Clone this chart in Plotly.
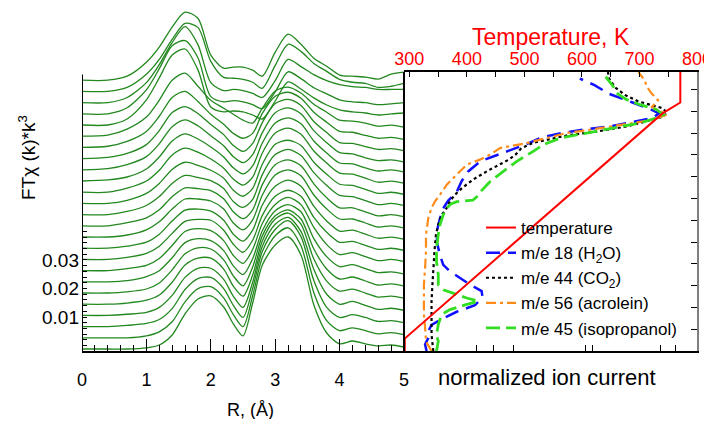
import plotly.graph_objects as go

# ---- left panel: stacked FT magnitudes (units of 1e-3), bottom spectrum first ----
r_grid = [0, 0.4, 0.7, 1.0, 1.2, 1.4, 1.6, 1.8, 2.0, 2.2, 2.35, 2.5, 2.65,
          2.8, 3.0, 3.2, 3.4, 3.6, 3.8, 4.0, 4.2, 4.4, 4.6, 4.8, 5.0]

ft_00 = [0, 0, 0, 0.4, 1.4, 4.9, 12.3, 17.5, 18.6, 14.7, 8.8, 4.6, 16.1, 29.4, 36.4, 39.2, 32.9, 15.4, 5.6, 1.8, 2.8, 1.8, 1.1, 1.4, 0.7]
ft_01 = [0, 0, 0, 0.7, 2.1, 5.6, 12.6, 17.2, 17.9, 14.0, 8.1, 3.9, 14.7, 28.0, 35.7, 38.5, 32.2, 15.8, 6.0, 2.5, 3.5, 2.5, 1.4, 1.8, 1.1]
ft_02 = [0, 0, 0.4, 1.1, 2.5, 6.3, 13.0, 16.8, 17.2, 13.3, 7.4, 3.2, 13.3, 26.3, 34.0, 37.1, 31.5, 16.1, 6.7, 3.2, 4.2, 3.2, 1.8, 2.1, 1.4]
ft_03 = [0, 0, 0.4, 1.1, 2.8, 7.0, 13.3, 16.5, 16.5, 12.6, 6.7, 2.8, 11.6, 24.2, 31.9, 34.3, 29.4, 16.1, 7.4, 3.9, 4.9, 3.5, 2.1, 2.5, 1.8]
ft_04 = [0, 0, 0.4, 1.4, 3.2, 7.7, 13.7, 16.1, 16.1, 12.3, 6.3, 2.8, 10.2, 22.1, 29.8, 31.9, 28.0, 15.8, 8.1, 4.6, 5.3, 3.9, 2.5, 2.8, 2.1]
ft_05 = [0, 0, 0.4, 1.4, 3.5, 8.1, 13.7, 15.8, 15.4, 11.6, 6.0, 2.5, 9.1, 20.0, 27.0, 29.1, 25.9, 15.4, 8.4, 4.9, 5.6, 4.2, 2.8, 3.2, 2.5]
ft_06 = [0, 0, 0.4, 1.8, 3.9, 8.4, 13.7, 15.1, 14.4, 10.9, 5.6, 2.5, 8.1, 17.9, 24.9, 27.0, 24.5, 15.1, 8.8, 5.3, 6.0, 4.6, 3.2, 3.5, 2.8]
ft_07 = [0, 0, 0.7, 1.8, 4.2, 8.8, 13.7, 14.7, 14.0, 10.5, 5.3, 2.5, 7.4, 16.5, 23.1, 25.6, 23.1, 15.1, 9.1, 5.6, 6.3, 4.9, 3.5, 3.9, 3.2]
ft_08 = [0, 0, 0.7, 2.1, 4.6, 9.1, 13.3, 14.0, 13.7, 10.2, 5.3, 2.5, 6.7, 15.4, 22.1, 24.2, 22.1, 14.7, 9.5, 6.0, 6.3, 4.9, 3.5, 3.9, 3.2]
ft_09 = [0, 0, 0.7, 2.1, 4.9, 9.5, 13.3, 13.7, 13.0, 9.8, 4.9, 2.5, 6.3, 15.1, 21.7, 23.8, 21.7, 14.7, 9.5, 6.0, 6.3, 4.9, 3.5, 3.9, 3.2]
ft_10 = [0, 0, 0.7, 2.5, 5.3, 9.8, 13.3, 13.3, 12.6, 9.8, 4.9, 2.5, 6.0, 14.7, 21.7, 23.5, 21.4, 14.7, 9.8, 6.3, 6.3, 4.9, 3.5, 3.9, 3.2]
ft_11 = [0, 0, 1.1, 2.8, 5.6, 10.2, 13.3, 13.0, 12.3, 9.5, 4.9, 2.5, 5.6, 14.4, 21.4, 23.1, 21.0, 14.7, 9.8, 6.3, 6.3, 4.9, 3.5, 3.9, 3.2]
ft_12 = [0, 0, 1.1, 3.2, 6.3, 10.9, 13.7, 13.0, 11.9, 9.1, 4.6, 2.5, 5.3, 14.0, 21.0, 22.8, 20.7, 14.7, 10.2, 6.7, 6.3, 4.9, 3.5, 3.9, 3.2]
ft_13 = [0, 0, 1.1, 3.5, 7.0, 11.9, 14.4, 13.3, 11.6, 8.8, 4.6, 2.5, 5.3, 13.7, 20.7, 22.1, 20.3, 14.4, 10.2, 6.7, 6.3, 4.9, 3.5, 3.9, 3.2]
ft_14 = [0, 0, 1.4, 3.9, 7.7, 13.0, 15.4, 14.0, 11.6, 8.4, 4.6, 2.5, 5.3, 13.7, 20.7, 22.4, 20.3, 14.4, 10.2, 6.7, 6.3, 4.9, 3.5, 3.9, 3.2]
ft_15 = [0, 0.4, 1.4, 4.2, 8.4, 14.0, 16.5, 14.7, 11.9, 8.4, 4.6, 2.5, 5.3, 13.3, 20.3, 22.1, 20.0, 14.0, 9.8, 6.3, 6.0, 4.6, 3.5, 3.9, 3.2]
ft_16 = [0, 0.4, 1.8, 4.6, 9.1, 15.1, 17.5, 15.4, 11.9, 8.4, 4.6, 2.5, 5.3, 13.0, 20.0, 21.7, 19.6, 13.7, 9.5, 6.0, 5.6, 4.2, 3.2, 3.5, 2.8]
ft_17 = [0, 0.4, 1.8, 4.9, 9.8, 16.1, 18.2, 15.8, 11.9, 8.4, 4.6, 2.5, 5.3, 12.6, 19.3, 20.7, 18.6, 13.0, 9.1, 5.6, 5.3, 4.2, 3.2, 3.5, 2.8]
ft_18 = [0, 0.4, 2.1, 5.6, 10.9, 17.5, 19.6, 16.1, 11.6, 8.1, 4.9, 3.2, 4.9, 11.9, 17.9, 19.3, 17.2, 12.3, 8.8, 5.6, 5.3, 4.2, 3.2, 3.5, 2.8]
ft_19 = [0, 0.4, 2.5, 6.7, 12.6, 19.6, 22.1, 17.5, 12.6, 9.8, 7.7, 5.6, 4.6, 9.8, 15.8, 17.2, 15.1, 11.2, 8.4, 5.6, 5.3, 4.6, 3.5, 3.9, 3.2]
ft_20 = [0, 0, 2.1, 8.8, 16.5, 24.5, 26.6, 19.3, 6.3, 4.6, 4.9, 4.6, 3.5, 2.1, 8.4, 15.1, 12.6, 9.5, 7.0, 5.3, 4.6, 4.2, 3.5, 3.9, 4.2]
ft_21 = [0, 0, 2.1, 8.4, 15.8, 23.8, 25.6, 19.6, 6.0, 4.2, 4.6, 4.2, 3.2, 1.8, 7.7, 14.7, 12.3, 9.1, 7.0, 4.9, 4.2, 3.9, 3.2, 3.5, 3.9]
ft_22 = [0, 0, 1.8, 7.0, 13.3, 21.0, 26.6, 20.3, 7.0, 4.2, 4.6, 4.2, 3.2, 1.8, 7.7, 15.1, 12.6, 9.8, 7.7, 6.3, 5.6, 5.3, 4.6, 4.6, 4.6]
ft_23 = [0, 0, 1.4, 6.0, 11.2, 18.2, 23.8, 22.4, 10.5, 4.9, 4.6, 4.2, 3.2, 1.1, 9.1, 16.5, 14.0, 9.8, 7.0, 4.2, 3.2, 2.8, 1.4, 1.8, 2.8]
ft_24 = [0, 0, 1.4, 6.3, 11.6, 18.6, 23.8, 21.7, 8.8, 4.2, 4.6, 4.6, 3.5, 1.4, 9.8, 16.1, 12.6, 7.7, 4.9, 1.8, 1.4, 1.1, 0.4, 2.1, 2.8]

spectra = [ft_00, ft_01, ft_02, ft_03, ft_04, ft_05, ft_06, ft_07, ft_08, ft_09,
           ft_10, ft_11, ft_12, ft_13, ft_14, ft_15, ft_16, ft_17, ft_18, ft_19,
           ft_20, ft_21, ft_22, ft_23, ft_24]
stack_start = -0.0012   # vertical offset of the bottom spectrum
stack_step = 0.00392    # offset between neighbouring spectra

# ---- right panel: TPD traces vs. time (arb. units), ion current normalised ----
time_temp = [0, 0.57, 10.9, 11.4, 12.8]
temp_k = [292, 292, 740, 771, 771]

time_h2o = [0, 0.3, 0.6, 0.9, 1.2, 1.5, 1.8, 2.1, 2.45, 2.75, 3.05, 3.35, 3.65, 3.95, 4.4, 5.0,
            5.6, 6.1, 6.55, 6.9, 7.3, 7.8, 8.25, 8.7, 9.15, 9.5, 9.8, 10.0, 10.15, 10.3, 10.5,
            10.7, 10.9, 11.1, 11.4, 11.8, 12.2, 12.5]
ion_h2o = [0.077, 0.072, 0.083, 0.083, 0.094, 0.134, 0.18, 0.242, 0.268, 0.265, 0.225, 0.191,
           0.157, 0.134, 0.123, 0.112, 0.114, 0.123, 0.134, 0.151, 0.18, 0.197, 0.22, 0.26, 0.35,
           0.42, 0.47, 0.54, 0.61, 0.70, 0.78, 0.85, 0.87, 0.84, 0.78, 0.70, 0.65, 0.60]

time_co2 = [0, 0.75, 1.36, 2.28, 3.04, 3.81, 4.57, 5.34, 5.8, 6.25, 6.56, 6.87, 7.17, 7.5, 7.9,
            8.3, 8.76, 9.0, 9.3, 9.55, 9.9, 10.05, 10.3, 10.55, 10.75, 10.95, 11.15, 11.45,
            11.75, 12.1, 12.5, 12.8]
ion_co2 = [0.10, 0.094, 0.094, 0.094, 0.097, 0.10, 0.104, 0.109, 0.117, 0.129, 0.146, 0.157,
           0.174, 0.20, 0.24, 0.29, 0.355, 0.38, 0.40, 0.44, 0.56, 0.65, 0.76, 0.83, 0.885,
           0.898, 0.88, 0.80, 0.754, 0.72, 0.70, 0.696]

time_acr = [0, 0.44, 1.06, 1.67, 2.28, 3.04, 3.81, 4.57, 5.34, 6.1, 6.56, 6.87, 7.17, 7.63,
            8.09, 8.55, 8.78, 9.01, 9.31, 9.54, 9.77, 10.0, 10.15, 10.31, 10.46, 10.61, 10.84,
            11.2, 11.5, 11.8, 12.1, 12.45, 12.8]
ion_acr = [0.094, 0.075, 0.072, 0.068, 0.068, 0.068, 0.072, 0.075, 0.075, 0.083, 0.094, 0.106,
           0.123, 0.146, 0.18, 0.214, 0.259, 0.294, 0.328, 0.419, 0.487, 0.555, 0.635, 0.714,
           0.783, 0.851, 0.897, 0.846, 0.867, 0.846, 0.83, 0.82, 0.80]

time_iso = [0, 0.44, 0.75, 1.21, 1.67, 1.9, 2.14, 2.28, 2.43, 2.66, 2.81, 3.04, 3.5, 4.11, 4.72,
            5.34, 5.8, 6.25, 6.56, 6.75, 6.85, 6.92, 7.1, 7.32, 7.78, 8.24, 8.7, 9.16, 9.46,
            9.77, 10.0, 10.23, 10.46, 10.69, 10.84, 11.07, 11.3, 11.53, 11.83, 12.14, 12.52, 12.8]
ion_iso = [0.111, 0.117, 0.111, 0.117, 0.128, 0.157, 0.214, 0.254, 0.214, 0.168, 0.134, 0.117,
           0.117, 0.111, 0.111, 0.117, 0.123, 0.134, 0.146, 0.16, 0.18, 0.235, 0.25, 0.262,
           0.294, 0.339, 0.385, 0.441, 0.475, 0.533, 0.623, 0.726, 0.806, 0.862, 0.885, 0.862,
           0.806, 0.76, 0.726, 0.714, 0.692, 0.676]

ion_ticks = [0.249, 0.304, 0.372, 0.618, 0.645, 0.874, 0.925]
temp_ticks = [300, 400, 500, 600, 700, 800]
ft_ticks = [0.01, 0.02, 0.03]

FONT = "Arial, 'Liberation Sans', sans-serif"

# the page puts the plot 8 px in from the window edge; the figure runs to the right edge
W, H, PAD = 704, 411, 8


def fx(px):
    return (px - PAD) / W


def fy(py):
    return 1 - (py - PAD) / H


fig = go.Figure()

for i, ft in enumerate(spectra):
    off = stack_start + i * stack_step
    fig.add_trace(go.Scatter(
        x=r_grid, y=[off + v * 1e-3 for v in ft],
        mode='lines', line=dict(color='#23881f', width=1.3, shape='spline', smoothing=0.8),
        showlegend=False, hoverinfo='skip', xaxis='x', yaxis='y'))

fig.add_trace(go.Scatter(x=temp_k, y=time_temp, name='temperature', mode='lines',
                         line=dict(color='#ff0000', width=2), xaxis='x3', yaxis='y2'))
fig.add_trace(go.Scatter(x=ion_h2o, y=time_h2o, name='m/e 18 (H<sub>2</sub>O)', mode='lines',
                         line=dict(color='#1010ff', width=2.5, dash='14px,8px'),
                         xaxis='x2', yaxis='y2'))
fig.add_trace(go.Scatter(x=ion_co2, y=time_co2, name='m/e 44 (CO<sub>2</sub>)', mode='lines',
                         line=dict(color='black', width=2.2, dash='3px,3px'),
                         xaxis='x2', yaxis='y2'))
fig.add_trace(go.Scatter(x=ion_acr, y=time_acr, name='m/e 56 (acrolein)', mode='lines',
                         line=dict(color='#ff8c1a', width=2.2, dash='10px,4px,3px,4px'),
                         xaxis='x2', yaxis='y2'))
fig.add_trace(go.Scatter(x=ion_iso, y=time_iso, name='m/e 45 (isopropanol)', mode='lines',
                         line=dict(color='#33dd22', width=2.8, dash='14px,6px'),
                         xaxis='x2', yaxis='y2'))

ft_vals = [k * 0.002 for k in range(21)]
ft_text = [('%.2f' % v if any(abs(v - t) < 1e-9 for t in ft_ticks) else '') for v in ft_vals]
ft_top = 0.01 + (317 - PAD) * 0.00035

fig.update_layout(
    width=W, height=H,
    margin=dict(l=0, r=0, t=0, b=0, autoexpand=False),
    paper_bgcolor='white', plot_bgcolor='rgba(0,0,0,0)',
    font=dict(family=FONT, size=18, color='black'),
    xaxis=dict(domain=[fx(82), fx(404)], range=[0, 5], anchor='y', showgrid=False,
               zeroline=False, automargin=False,
               showline=True, linecolor='black', linewidth=1.5,
               ticks='inside', ticklen=12, tickcolor='black', dtick=1,
               minor=dict(dtick=0.2, ticks='inside', ticklen=6, tickcolor='black'),
               tickfont=dict(size=18), ticklabelstandoff=12),
    yaxis=dict(domain=[fy(351), 1], range=[-0.0019, ft_top], anchor='x',
               showgrid=False, zeroline=False, showline=False, automargin=False,
               tickmode='array', tickvals=ft_vals, ticktext=ft_text,
               ticks='inside', ticklen=5, tickcolor='black', tickfont=dict(size=19),
               ticklabelstandoff=2),
    xaxis2=dict(domain=[fx(404), fx(697)], range=[0, 1], anchor='y2', showgrid=False,
                zeroline=False, automargin=False,
                showline=True, linecolor='black', linewidth=1.5,
                tickmode='array', tickvals=ion_ticks, ticks='inside', ticklen=6,
                tickcolor='black', showticklabels=False),
    xaxis3=dict(overlaying='x2', side='top', anchor='y2', range=[290.7, 800],
                automargin=False, ticklabeloverflow='allow', ticklabelstandoff=-2,
                showgrid=False, zeroline=False, showline=True, linecolor='black', linewidth=1.5,
                tickmode='array', tickvals=temp_ticks, ticks='inside', ticklen=5,
                tickcolor='black', minor=dict(dtick=50, ticks='inside', ticklen=5,
                                              tickcolor='black'),
                tickfont=dict(size=18, color='#ff0000')),
    yaxis2=dict(domain=[fy(351), fy(72)], range=[0, 12.8], anchor='x2', side='right',
                automargin=False,
                showgrid=False, zeroline=False, showline=True, linecolor='#808080', linewidth=2,
                dtick=1, ticks='inside', ticklen=6, tickcolor='black', showticklabels=False),
    legend=dict(x=fx(682), y=fy(346), xanchor='right', yanchor='bottom',
                bgcolor='rgba(0,0,0,0)', font=dict(size=17), tracegroupgap=0),
    shapes=[
        dict(type='line', xref='x', yref='y', x0=0, x1=0, y0=-0.0019, y1=0.0949,
             line=dict(color='black', width=2)),
        dict(type='line', xref='x2 domain', yref='y2 domain', x0=0, x1=0, y0=0, y1=1,
             line=dict(color='black', width=2)),
    ],
    annotations=[
        dict(text='FT\u03c7 (k)*k<sup>3</sup>', xref='paper', yref='paper', x=fx(27),
             y=fy(158), xanchor='center', yanchor='middle', textangle=-90,
             showarrow=False, font=dict(size=19)),
        dict(text='R, (\u00c5)', xref='paper', yref='paper', x=fx(250), y=fy(410),
             xanchor='center', yanchor='middle', showarrow=False, font=dict(size=18)),
        dict(text='normalized ion current', xref='paper', yref='paper', x=fx(547),
             y=fy(377), xanchor='center', yanchor='middle', showarrow=False,
             font=dict(size=22)),
        dict(text='Temperature, K', xref='paper', yref='paper', x=fx(551), y=fy(37),
             xanchor='center', yanchor='middle', showarrow=False,
             font=dict(size=23, color='#ff0000')),
    ],
)

fig.write_html("out.html")
